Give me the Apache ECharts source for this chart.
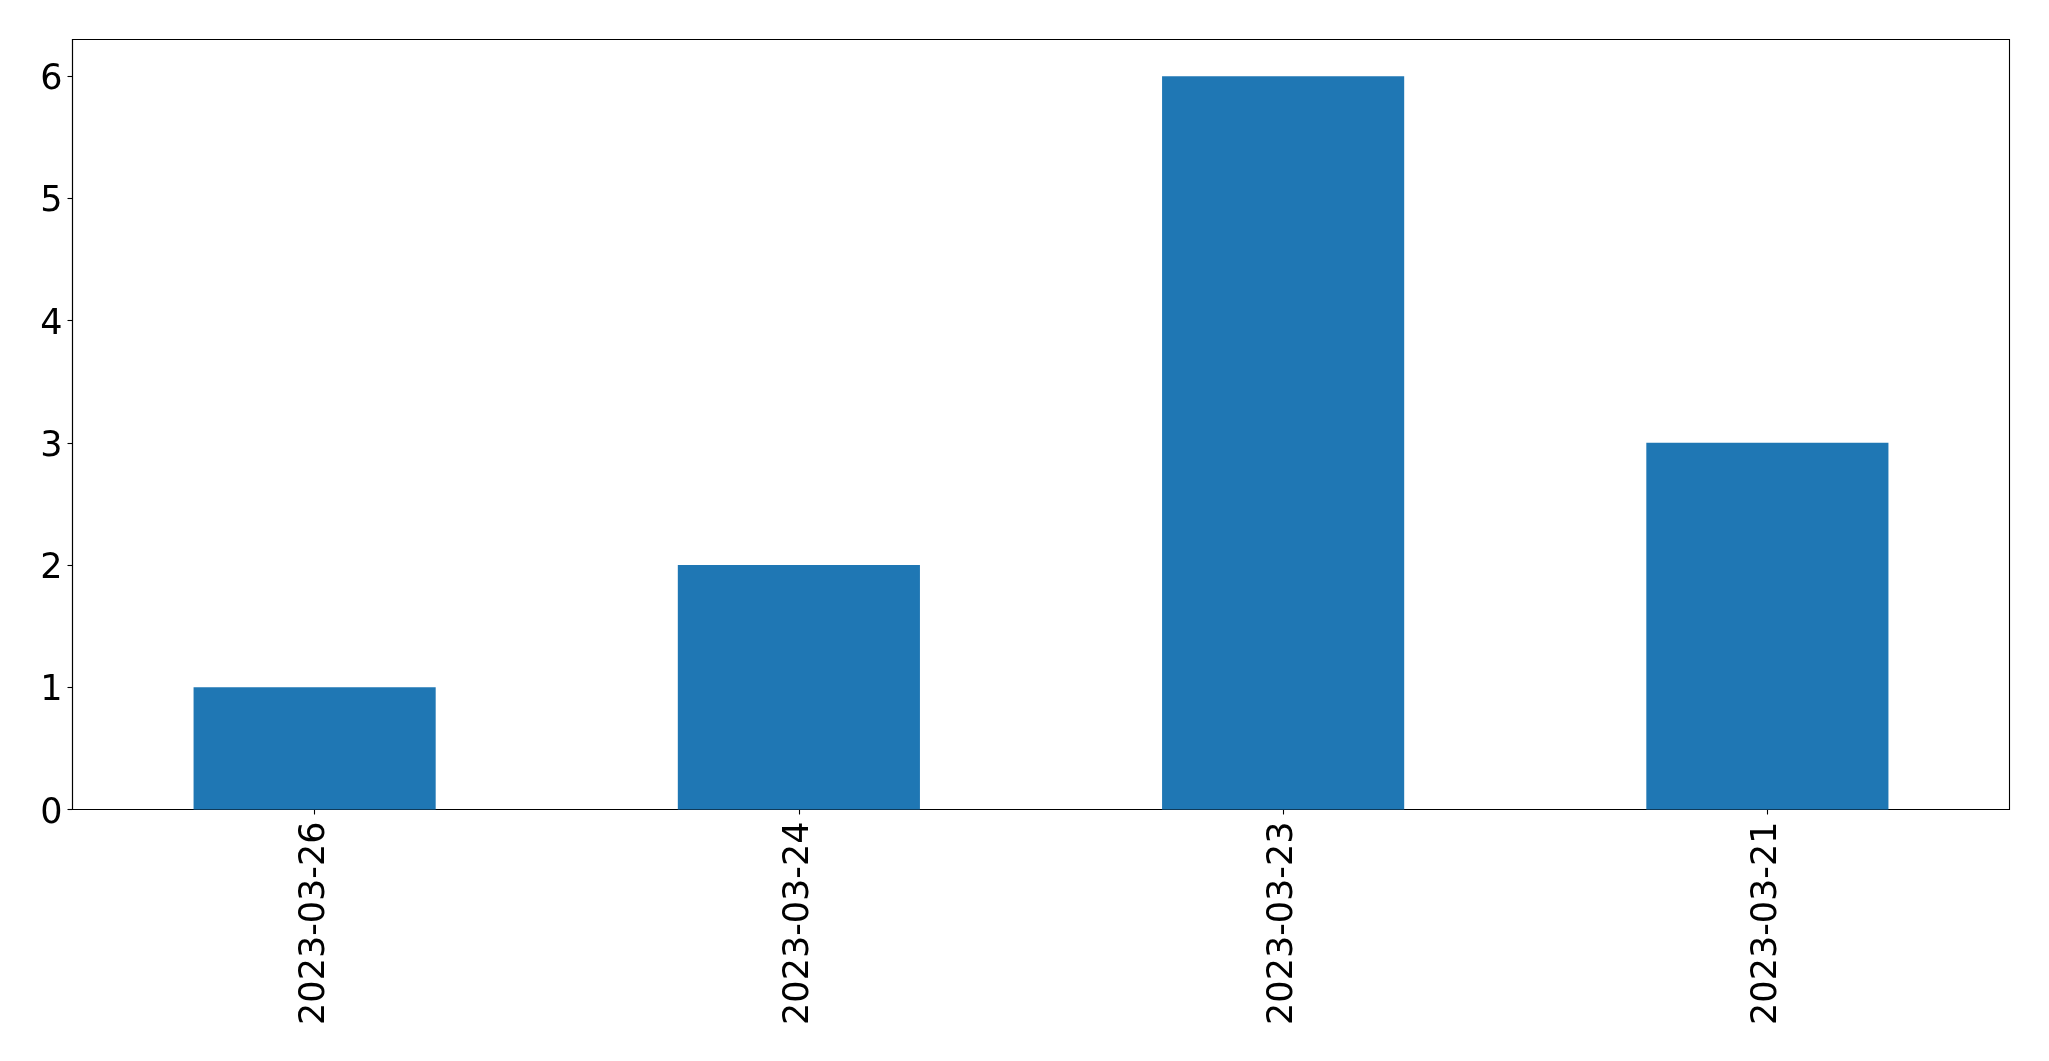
<!DOCTYPE html>
<html>
<head>
<meta charset="utf-8">
<script src="https://cdn.jsdelivr.net/npm/echarts@6/dist/echarts.min.js"></script>
<style>
html,body{margin:0;padding:0;background:#fff;}
#chart{width:2049px;height:1061px;}
</style>
</head>
<body>
<div id="chart"></div>
<script>
const categories = ['2023-03-26', '2023-03-24', '2023-03-23', '2023-03-21'];
const values = [1, 2, 6, 3];
const yTicks = [0, 1, 2, 3, 4, 5, 6];

const chart = echarts.init(document.getElementById('chart'), null, {renderer: 'canvas'});
const font = 'DejaVu Sans';
chart.setOption({
  animation: false,
  backgroundColor: '#ffffff',
  grid: {
    left: 72.5, top: 39.5, width: 1937, height: 770,
    show: true, borderColor: '#000', borderWidth: 1.1, backgroundColor: 'transparent',
    containLabel: false
  },
  xAxis: {
    type: 'category',
    data: categories,
    boundaryGap: true,
    axisLine: {show: true, lineStyle: {color: '#000', width: 1.1}},
    axisTick: {show: true, alignWithLabel: true, length: 5, lineStyle: {color: '#000', width: 1.1}},
    axisLabel: {rotate: 90, margin: 12, fontFamily: font, fontSize: 35, color: '#000'},
    splitLine: {show: false}
  },
  yAxis: {
    type: 'value',
    min: 0, max: 6.3,
    axisLine: {show: true, lineStyle: {color: '#000', width: 1.1}},
    axisTick: {show: true, length: 5, customValues: yTicks, lineStyle: {color: '#000', width: 1.1}},
    axisLabel: {
      margin: 10, customValues: yTicks,
      formatter: function (v) { return '{a|' + v + '}'; },
      rich: {a: {fontFamily: font, fontSize: 35, color: '#000', padding: [8, 0, 0, 0]}}
    },
    splitLine: {show: false}
  },
  series: [{
    type: 'bar',
    data: values,
    barWidth: '50%',
    itemStyle: {color: '#1f77b4'}
  }]
});
</script>
</body>
</html>
